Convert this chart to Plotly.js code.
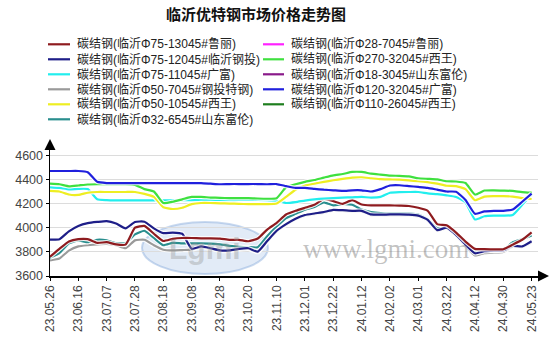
<!DOCTYPE html>
<html>
<head>
<meta charset="utf-8">
<script src="https://cdn.plot.ly/plotly-3.0.1.min.js"></script>
<style>html,body{margin:0;padding:0;background:#fff;}#chart{width:554px;height:357px;}</style>
</head>
<body>
<div id="chart"></div>
<script>
// ---------- data ----------
const tickDates = ['23.05.26','23.06.16','23.07.07','23.07.28','23.08.18','23.09.08','23.09.28','23.10.20','23.11.10','23.12.01','23.12.22','24.01.12','24.02.02','24.03.01','24.03.22','24.04.12','24.04.30','24.05.23'];
const yTicks = [3600, 3800, 4000, 4200, 4400, 4600];
const STEP = 5;          // trading days between samples
const TICK_EVERY = 15;   // trading days between date labels

const nameRed     = '碳结钢(临沂Φ75-13045#鲁丽)';
const nameNavy    = '碳结钢(临沂Φ75-12045#临沂钢投)';
const nameCyan    = '碳结钢(临沂Φ75-11045#广富)';
const nameGray    = '碳结钢(临沂Φ50-7045#钢投特钢)';
const nameYellow  = '碳结钢(临沂Φ50-10545#西王)';
const nameTeal    = '碳结钢(临沂Φ32-6545#山东富伦)';
const nameMagenta = '碳结钢(临沂Φ28-7045#鲁丽)';
const nameGreen   = '碳结钢(临沂Φ270-32045#西王)';
const namePurple  = '碳结钢(临沂Φ18-3045#山东富伦)';
const nameBlue    = '碳结钢(临沂Φ120-32045#广富)';
const nameDkGreen = '碳结钢(临沂Φ110-26045#西王)';

const red = [3760,3825,3885,3905,3905,3875,3880,3862,3860,4000,4015,3950,3890,3908,3915,3915,3912,3912,3910,3900,3900,3888,3910,3985,4040,4110,4140,4165,4190,4238,4220,4198,4228,4192,4185,4185,4185,4183,4180,4165,4140,4030,4020,3960,3885,3825,3822,3820,3822,3860,3900,3962];
const navy = [3902,3905,3970,4015,4038,4048,4055,4035,3995,4048,4050,3995,3955,3960,3950,3825,3845,3830,3812,3812,3825,3830,3802,3890,3975,4030,4075,4105,4118,4130,4148,4145,4140,4140,4110,4108,4110,4110,4108,4100,4065,3980,4000,3940,3860,3788,3805,3810,3812,3850,3845,3888];
const cyan = [4335,4330,4318,4322,4320,4235,4228,4226,4226,4226,4226,4226,4226,4226,4228,4228,4228,4228,4228,4228,4230,4230,4230,4228,4222,4205,4212,4225,4235,4242,4246,4250,4252,4255,4250,4255,4290,4295,4296,4296,4285,4278,4268,4255,4210,4068,4095,4100,4100,4105,4190,4278];
const gray = [3730,3745,3810,3845,3855,3862,3865,3855,3830,3895,3900,3855,3818,3812,3815,3818,3840,3825,3808,3808,3820,3825,3798,3885,3970,4025,4070,4100,4113,4125,4143,4140,4135,4135,4105,4103,4105,4105,4103,4095,4060,3975,3995,3935,3850,3770,3790,3795,3800,3845,3840,3880];
const yellow = [4305,4300,4275,4272,4290,4296,4296,4296,4296,4296,4280,4255,4170,4155,4165,4195,4205,4205,4202,4200,4198,4195,4195,4195,4200,4255,4315,4350,4365,4380,4393,4405,4415,4418,4410,4402,4400,4398,4392,4385,4378,4365,4348,4345,4320,4228,4258,4262,4262,4258,4245,4238];
const teal = [3752,3790,3870,3895,3880,3900,3895,3872,3872,3945,3975,3915,3855,3875,3870,3870,3870,3868,3862,3850,3842,3840,3838,3930,4010,4080,4115,4150,4172,4210,4185,4195,4190,4150,4130,4122,4120,4120,4118,4110,4070,3995,4005,3945,3865,3800,3810,3810,3815,3880,3905,3935];
const green = [4365,4360,4343,4350,4358,4360,4360,4360,4360,4355,4320,4300,4205,4215,4235,4255,4255,4250,4248,4245,4245,4245,4242,4240,4245,4335,4360,4380,4395,4415,4434,4445,4462,4462,4448,4440,4432,4430,4425,4410,4405,4400,4385,4383,4370,4275,4308,4310,4308,4305,4295,4290];
const blue = [4470,4470,4470,4470,4460,4380,4370,4370,4370,4370,4370,4370,4370,4370,4370,4370,4370,4365,4360,4362,4362,4362,4362,4360,4362,4345,4330,4330,4322,4315,4310,4305,4310,4310,4300,4320,4350,4352,4345,4338,4330,4315,4300,4298,4230,4115,4135,4140,4140,4150,4215,4283];
const magenta = [];
const purple = [];
const dkgreen = [];

// ---------- layout helpers ----------
const W = 554, H = 357, ML = 50, MR = 16, MT = 150, MB = 81;
const PW = W - ML - MR, PH = H - MT - MB;
const px = p => (p - ML) / PW;
const py = p => (H - MB - p) / PH;

const series = [
  {name: nameRed, y: red, color: '#8E1B1F', col: 0, row: 0},
  {name: nameNavy, y: navy, color: '#1E1E88', col: 0, row: 1},
  {name: nameCyan, y: cyan, color: '#22EEEE', col: 0, row: 2},
  {name: nameGray, y: gray, color: '#9A9A9A', col: 0, row: 3},
  {name: nameYellow, y: yellow, color: '#EEEE22', col: 0, row: 4},
  {name: nameTeal, y: teal, color: '#2A8E8E', col: 0, row: 5},
  {name: nameMagenta, y: magenta, color: '#FF22FF', col: 1, row: 0},
  {name: nameGreen, y: green, color: '#3FE03F', col: 1, row: 1},
  {name: namePurple, y: purple, color: '#8A1A8A', col: 1, row: 2},
  {name: nameBlue, y: blue, color: '#2020DD', col: 1, row: 3},
  {name: nameDkGreen, y: dkgreen, color: '#1E7E1E', col: 1, row: 4}
];
// drawing order (bottom to top)
const drawOrder = [nameMagenta, namePurple, nameDkGreen, nameGray, nameTeal, nameNavy, nameRed, nameCyan, nameYellow, nameGreen, nameBlue];

const traces = [];
drawOrder.forEach(n => {
  const s = series.find(q => q.name === n);
  const xs = s.y.map((_, i) => i * STEP);
  traces.push({x: xs, y: s.y, type: 'scatter', mode: 'lines', hoverinfo: 'skip', showlegend: false,
    line: {color: 'rgba(255,255,255,0.85)', width: 4.5, shape: 'spline', smoothing: 0.45, simplify: false}});
  traces.push({x: xs, y: s.y, type: 'scatter', mode: 'lines', name: s.name, showlegend: false,
    line: {color: s.color, width: 2.2, shape: 'spline', smoothing: 0.45, simplify: false}});
});

// manual legend (two columns)
const shapes = [];
const annotations = [];
const legX = [[48, 70, 75], [263, 284, 289]];
const legY0 = 44.3, legDY = 15;
series.forEach(s => {
  const [x0, x1, xt] = legX[s.col];
  const yy = legY0 + s.row * legDY;
  shapes.push({type: 'line', xref: 'paper', yref: 'paper', x0: px(x0), x1: px(x1), y0: py(yy), y1: py(yy),
    line: {color: s.color, width: 2.2}});
  annotations.push({xref: 'paper', yref: 'paper', x: px(xt), y: py(yy), xanchor: 'left', yanchor: 'middle',
    text: s.name, showarrow: false,
    font: {family: 'Liberation Sans, Noto Sans CJK SC', size: 12, color: '#222'}});
});

// watermark
shapes.push({type: 'circle', xref: 'paper', yref: 'paper', layer: 'below',
  x0: px(142), x1: px(268), y0: py(274), y1: py(222),
  fillcolor: 'rgba(140,175,225,0.25)', line: {color: 'rgba(120,160,215,0.4)', width: 2}});
annotations.push({xref: 'paper', yref: 'paper', x: px(205), y: py(248), xanchor: 'center', yanchor: 'middle',
  text: '<b>Lgmi</b>', showarrow: false,
  font: {family: 'Liberation Sans', size: 30, color: 'rgba(150,150,150,0.4)'}});
annotations.push({xref: 'paper', yref: 'paper', x: px(386), y: py(249), xanchor: 'center', yanchor: 'middle',
  text: 'www.lgmi.com', showarrow: false,
  font: {family: 'Liberation Serif', size: 27, color: 'rgba(120,120,120,0.45)'}});

// axis arrows
shapes.push({type: 'path', xref: 'paper', yref: 'paper', xsizemode: 'pixel', ysizemode: 'pixel', xanchor: 0, yanchor: 1,
  path: 'M -5.5 0 L 5.5 0 L 0 11 Z', fillcolor: '#000', line: {width: 0}});
shapes.push({type: 'path', xref: 'paper', yref: 'paper', xsizemode: 'pixel', ysizemode: 'pixel', xanchor: 1, yanchor: 0,
  path: 'M 0 -5.5 L 0 5.5 L 11 0 Z', fillcolor: '#000', line: {width: 0}});

const layout = {
  width: W, height: H,
  margin: {l: ML, r: MR, t: MT, b: MB, pad: 0},
  paper_bgcolor: '#fff', plot_bgcolor: '#fff',
  showlegend: false,
  title: {text: '<b>临沂优特钢市场价格走势图</b>', xref: 'container', yref: 'container',
    x: 256 / W, xanchor: 'center', y: 1 - 15 / H, yanchor: 'middle',
    font: {family: 'Noto Sans CJK SC', size: 15, color: '#111'}},
  xaxis: {
    range: [0, PW * TICK_EVERY / 28.33],
    tickvals: tickDates.map((_, i) => i * TICK_EVERY), ticktext: tickDates,
    tickangle: -90, ticks: 'outside', ticklen: 3, tickcolor: '#000',
    showgrid: false, zeroline: false, showline: true, linecolor: '#000', linewidth: 1.5,
    tickfont: {family: 'Liberation Sans', size: 12, color: '#444'}
  },
  yaxis: {
    range: [3600, 3600 + 1000 * PH / 120.7],
    tickvals: yTicks, ticktext: yTicks.map(String),
    ticks: 'outside', ticklen: 3, tickcolor: '#000',
    showgrid: true, gridcolor: '#dcdcdc', gridwidth: 1, zeroline: false,
    showline: true, linecolor: '#000', linewidth: 1.5,
    tickfont: {family: 'Liberation Sans', size: 12.5, color: '#444'}
  },
  shapes: shapes,
  annotations: annotations
};

Plotly.newPlot('chart', traces, layout, {displayModeBar: false, staticPlot: true});
</script>
</body>
</html>
